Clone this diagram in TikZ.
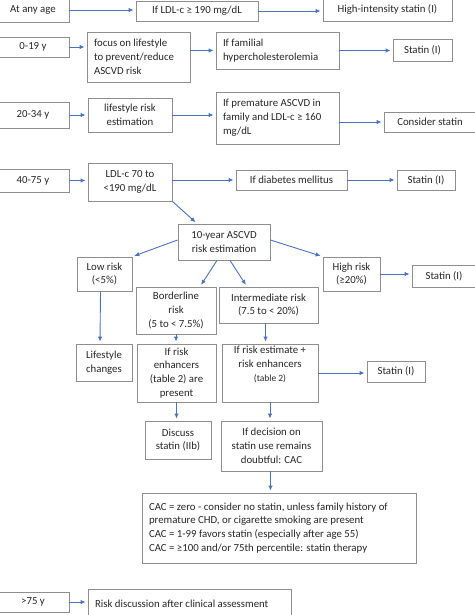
\documentclass[tikz,border=0pt]{standalone}
\usepackage{fontspec}
\setmainfont{Carlito}
\usetikzlibrary{calc,arrows.meta}
\definecolor{boxgray}{HTML}{8E8E8E}
\definecolor{arrowblue}{HTML}{4A72BE}
\tikzset{
  flowbox/.style={draw=boxgray, line width=0.9pt, text=black!85,
    inner xsep=7pt, inner ysep=2pt, font=\fontsize{10.8}{13.8}\selectfont}
}
% box from its top-left corner: {name}{x}{y}{width}{height}{text}
\newcommand{\flowbox}[6]{%
  \node[flowbox, align=center, minimum width=#4pt, minimum height=#5pt]
    (#1) at ({#2+#4/2},{#3+#5/2}) {#6};%
}
% same, text flush left
\newcommand{\flowboxL}[6]{%
  \pgfmathsetmacro{\fbtextw}{#4-14}%
  \node[flowbox, align=flush left, text width=\fbtextw pt, minimum width=#4pt, minimum height=#5pt]
    (#1) at ({#2+#4/2},{#3+#5/2}) {#6};%
}

\begin{document}
\begin{tikzpicture}[x=1pt,y=-1pt]

  % --- styles ---
  \tikzset{
    flowarrow/.style={draw=arrowblue, line width=0.9pt, shorten >=2pt,
      -{Latex[length=5pt,width=4.5pt]}},
  }

  \useasboundingbox (0,0) rectangle (474,615);

  % =========================
  %  AGE GROUPS
  % =========================

  \flowbox{anyage}{-3}{-2}{72}{24}{At any age}
  \flowbox{age019}{-3}{37}{72}{20}{0-19 y}
  \flowbox{age2034}{-3}{102}{72}{26}{20-34 y}
  \flowbox{age4075}{-3}{169}{72}{23}{40-75 y}
  \flowbox{age75}{-3}{592}{72}{20}{>75 y}

  % =========================
  %  UPPER ROWS
  % =========================

  \flowbox{ldl190}{136}{1}{122}{20}{If LDL-c ≥ 190 mg/dL}
  \flowbox{highint}{323}{-2}{129}{23}{High-intensity statin (I)}

  \flowboxL{focus}{87}{32}{103}{50}{focus on lifestyle\\to prevent/reduce\\ASCVD risk}
  \flowboxL{familial}{216}{32}{123}{37}{If familial\\hypercholesterolemia}
  \flowbox{statinA}{393}{39}{59}{22}{Statin (I)}

  \flowbox{lifeest}{88}{98}{84}{34}{lifestyle risk\\estimation}
  \flowboxL{premature}{216}{92}{123}{52}{If premature ASCVD in\\family and LDL-c ≥ 160\\mg/dL}
  \flowbox{consider}{384}{112}{92}{20}{Consider statin}

  \flowbox{ldl70}{88}{163}{84}{38}{LDL-c 70 to\\<190 mg/dL}
  \flowbox{diabetes}{236}{170}{111}{20}{If diabetes mellitus}
  \flowbox{statinB}{397}{170}{58}{20}{Statin (I)}

  % =========================
  %  10-YEAR RISK TREE
  % =========================

  \flowbox{tenyear}{178}{224}{92}{36}{10-year ASCVD\\risk estimation}
  \flowbox{lowrisk}{77}{257}{55}{34}{Low risk\\(<5\%)}
  \flowbox{highrisk}{323}{257}{57}{34}{High risk\\(≥20\%)}
  \flowbox{statinC}{412}{265}{64}{22}{Statin (I)}
  \flowbox{borderline}{136}{287}{80}{47}{Borderline\\risk\\(5 to < 7.5\%)}
  \flowbox{intermed}{219}{287}{99}{36}{Intermediate risk\\(7.5 to < 20\%)}

  \flowbox{lifestyle}{76}{344}{56}{37}{Lifestyle\\changes}
  \flowbox{enhancers}{137}{344}{79}{58}{If risk\\enhancers\\(table 2) are\\present}
  \flowbox{estimate}{222}{344}{96}{58}{If risk estimate +\\risk enhancers\\{\fontsize{9.5}{12}\selectfont(table 2)}\\[5pt]}
  \flowbox{statinD}{367}{361}{58}{21}{Statin (I)}

  \flowbox{discuss}{145}{421}{66}{38}{Discuss\\statin (IIb)}
  \flowbox{decision}{221}{421}{101}{50}{If decision on\\statin use remains\\doubtful: CAC}

  \flowboxL{cac}{142}{493}{274}{70}{CAC = zero - consider no statin, unless family history of\\premature CHD, or cigarette smoking are present\\CAC = 1-99 favors statin (especially after age 55)\\CAC = ≥100 and/or 75th percentile: statin therapy}

  \flowboxL{riskdisc}{88}{589}{203}{30}{Risk discussion after clinical assessment\\[3pt]}

  % =========================
  %  CONNECTORS
  % =========================

  \draw[flowarrow] (anyage.east) -- (anyage.east -| ldl190.west);
  \draw[flowarrow] (ldl190.east) -- (ldl190.east -| highint.west);

  \draw[flowarrow] (age019.east) -- (age019.east -| focus.west);
  \draw[flowarrow] (focus.east |- familial.west) -- (familial.west);
  \draw[flowarrow] (familial.east) -- (familial.east -| statinA.west);

  \draw[flowarrow] (age2034.east) -- (age2034.east -| lifeest.west);
  \draw[flowarrow] (lifeest.east) -- (lifeest.east -| premature.west);
  \draw[flowarrow] (premature.east |- consider.west) -- (consider.west);

  \draw[flowarrow] (age4075.east) -- (age4075.east -| ldl70.west);
  \draw[flowarrow] (ldl70.east |- diabetes.west) -- (diabetes.west);
  \draw[flowarrow] (diabetes.east) -- (diabetes.east -| statinB.west);

  \draw[flowarrow] (ldl70.south east) -- ($(tenyear.north)+(-27,0)$);
  \draw[flowarrow] ($(tenyear.west)+(0,-2)$) -- (lowrisk.north east);
  \draw[flowarrow] ($(tenyear.east)+(0,-2)$) -- (highrisk.north west);
  \draw[flowarrow] ($(tenyear.south)+(-7,0)$) -- ($(borderline.north)+(24,0)$);
  \draw[flowarrow] ($(tenyear.south)+(6,0)$) -- ($(intermed.north)+(-21.5,0)$);
  \draw[flowarrow] (highrisk.east) -- (highrisk.east -| statinC.west);

  \draw[flowarrow] ($(lowrisk.south)+(-4,0)$) -- ($(lifestyle.north)+(-4,0)$);
  \draw[flowarrow] (borderline.south) -- (borderline.south |- enhancers.north);
  \draw[flowarrow] ($(intermed.south)+(-3,0)$) -- ($(intermed.south |- estimate.north)+(-3,0)$);
  \draw[flowarrow] (estimate.east) -- (estimate.east -| statinD.west);

  \draw[flowarrow] (enhancers.south) -- (enhancers.south |- discuss.north);
  \draw[flowarrow] (estimate.south) -- (estimate.south |- decision.north);
  \draw[flowarrow] ($(decision.south)+(-1,0)$) -- ($(decision.south |- cac.north)+(-1,0)$);

  \draw[flowarrow] (age75.east) -- (age75.east -| riskdisc.west);

\end{tikzpicture}
\end{document}
